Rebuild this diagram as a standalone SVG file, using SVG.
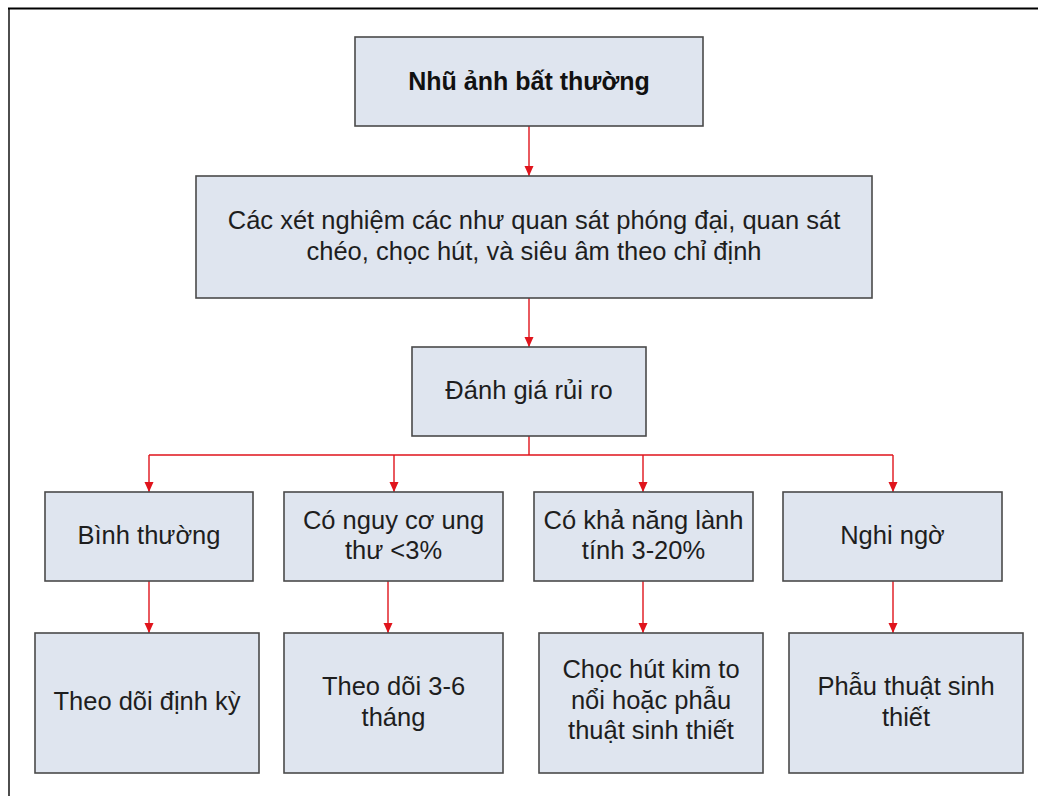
<svg xmlns="http://www.w3.org/2000/svg" width="1038" height="796" viewBox="0 0 1038 796">
<defs>
<style>
.box{fill:#dfe5ef;stroke:#4a4a4a;stroke-width:1.6}
.t{font-family:"Liberation Sans",Arial,sans-serif;font-size:25.5px;fill:#1e1e1e;text-anchor:middle}
.tb{font-family:"Liberation Sans",Arial,sans-serif;font-size:25px;font-weight:bold;fill:#111;text-anchor:middle}
.c{fill:none;stroke:#e0141c;stroke-width:1.4}
</style>
<marker id="ar" markerUnits="userSpaceOnUse" markerWidth="11" markerHeight="10" refX="10" refY="5" orient="auto" viewBox="0 0 11 10">
<path d="M0,0.5 L10,5 L0,9.5 Z" fill="#e0141c"/>
</marker>
</defs>
<rect width="1038" height="796" fill="#ffffff"/>
<path d="M9,796 V8.5" stroke="#3a3a3a" stroke-width="1.8" fill="none"/>
<path d="M8,8.5 H1038" stroke="#000" stroke-width="2" fill="none"/>

<g id="connectors">
<path class="c" d="M529,126 V176" marker-end="url(#ar)"/>
<path class="c" d="M529,298 V347" marker-end="url(#ar)"/>
<path class="c" d="M529,436 V455 M149,455 H893"/>
<path class="c" d="M149,455 V492" marker-end="url(#ar)"/>
<path class="c" d="M394,455 V492" marker-end="url(#ar)"/>
<path class="c" d="M643,455 V492" marker-end="url(#ar)"/>
<path class="c" d="M893,455 V492" marker-end="url(#ar)"/>
<path class="c" d="M149,581 V633" marker-end="url(#ar)"/>
<path class="c" d="M388,581 V633" marker-end="url(#ar)"/>
<path class="c" d="M643,581 V633" marker-end="url(#ar)"/>
<path class="c" d="M893,581 V633" marker-end="url(#ar)"/>
</g>

<g id="n1">
<rect class="box" x="355" y="37" width="348" height="89"/>
<text class="tb" x="529" y="90">Nhũ ảnh bất thường</text>
</g>
<g id="n2">
<rect class="box" x="196" y="176" width="676" height="122"/>
<text class="t" x="534" y="229">Các xét nghiệm các như quan sát phóng đại, quan sát</text>
<text class="t" x="534" y="260">chéo, chọc hút, và siêu âm theo chỉ định</text>
</g>
<g id="n3">
<rect class="box" x="412" y="347" width="234" height="89"/>
<text class="t" x="529" y="398.5">Đánh giá rủi ro</text>
</g>
<g id="n4">
<rect class="box" x="45" y="492" width="208" height="89"/>
<text class="t" x="149" y="544">Bình thường</text>
</g>
<g id="n5">
<rect class="box" x="284" y="492" width="219" height="89"/>
<text class="t" x="393.5" y="529">Có nguy cơ ung</text>
<text class="t" x="393.5" y="559">thư &lt;3%</text>
</g>
<g id="n6">
<rect class="box" x="534" y="492" width="219" height="89"/>
<text class="t" x="643.5" y="529">Có khả năng lành</text>
<text class="t" x="643.5" y="559">tính 3-20%</text>
</g>
<g id="n7">
<rect class="box" x="783" y="492" width="219" height="89"/>
<text class="t" x="892.5" y="544">Nghi ngờ</text>
</g>
<g id="n8">
<rect class="box" x="35" y="633" width="224" height="140"/>
<text class="t" x="147" y="710">Theo dõi định kỳ</text>
</g>
<g id="n9">
<rect class="box" x="284" y="633" width="219" height="140"/>
<text class="t" x="393.5" y="695">Theo dõi 3-6</text>
<text class="t" x="393.5" y="726">tháng</text>
</g>
<g id="n10">
<rect class="box" x="539" y="633" width="224" height="140"/>
<text class="t" x="651" y="678">Chọc hút kim to</text>
<text class="t" x="651" y="709">nổi hoặc phẫu</text>
<text class="t" x="651" y="739">thuật sinh thiết</text>
</g>
<g id="n11">
<rect class="box" x="789" y="633" width="234" height="140"/>
<text class="t" x="906" y="695">Phẫu thuật sinh</text>
<text class="t" x="906" y="726">thiết</text>
</g>
</svg>
